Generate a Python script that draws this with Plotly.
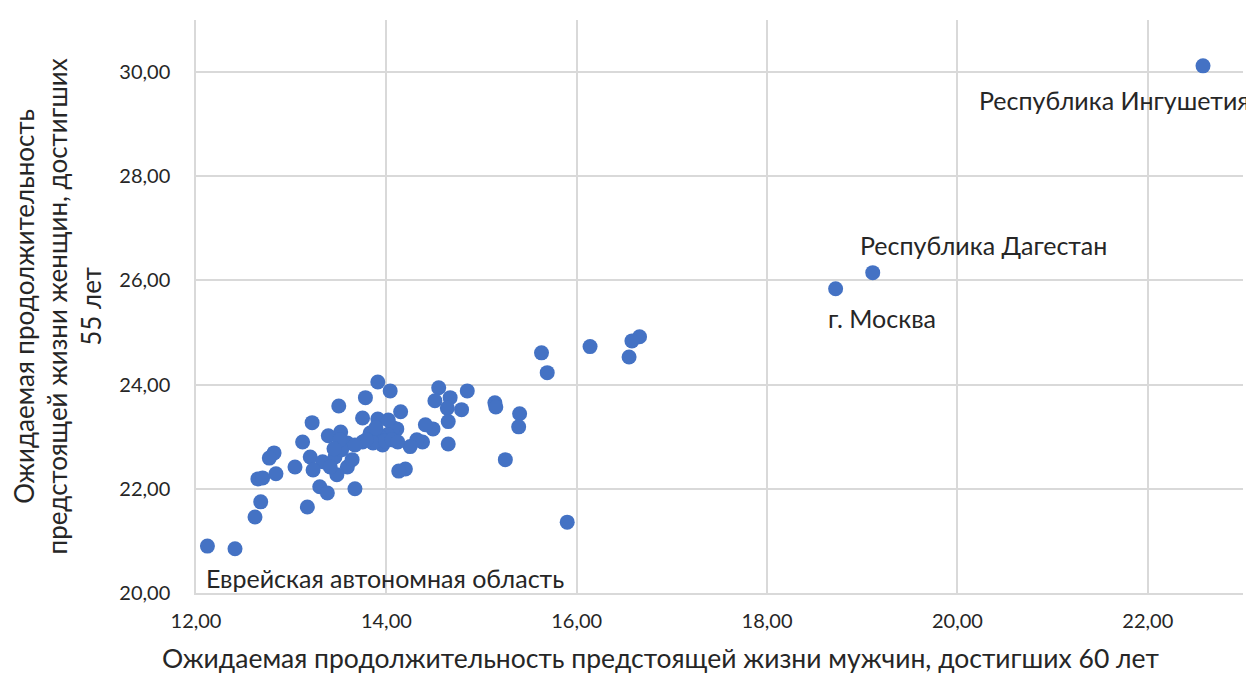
import plotly.graph_objects as go

men = [22.58, 19.11, 18.72, 12.12, 12.41, 15.90, 16.66, 16.58, 16.55, 16.14,
       15.63, 15.69, 15.40, 15.39, 15.14, 15.15, 15.25, 14.85, 14.55, 14.51,
       14.67, 14.64, 14.79, 14.65, 14.49, 14.41, 14.38, 14.32, 14.25, 14.65,
       14.15, 14.11, 14.04, 13.91, 14.20, 14.13, 14.07, 14.01, 13.93, 13.83,
       13.96, 13.86, 13.75, 13.91, 13.75, 13.78, 13.50, 13.52, 13.39, 13.59,
       13.22, 13.12, 13.20, 13.33, 13.46, 13.59, 13.23, 13.48, 13.30, 13.38,
       13.67, 13.17, 12.82, 12.77, 13.04, 12.84, 12.65, 12.70, 12.68, 12.62,
       13.53, 13.64, 13.41, 13.99, 14.06, 13.89, 13.79, 13.67, 14.02, 14.12,
       13.51, 13.45]
women = [30.12, 26.15, 25.84, 20.90, 20.85, 21.36, 24.92, 24.84, 24.53, 24.73,
         24.61, 24.23, 23.44, 23.19, 23.65, 23.57, 22.56, 23.88, 23.94, 23.69,
         23.75, 23.55, 23.52, 23.29, 23.15, 23.23, 22.90, 22.94, 22.81, 22.86,
         23.48, 23.15, 23.88, 24.05, 22.38, 22.34, 23.17, 23.04, 23.00, 23.07,
         22.84, 22.88, 22.90, 23.34, 23.36, 23.75, 23.59, 23.09, 23.02, 22.88,
         23.27, 22.90, 22.61, 22.52, 22.61, 22.42, 22.36, 22.27, 22.04, 21.92,
         22.00, 21.65, 22.69, 22.59, 22.42, 22.29, 22.19, 22.21, 21.75, 21.46,
         22.75, 22.56, 22.42, 22.92, 22.94, 23.17, 22.94, 22.84, 23.32, 22.90,
         22.94, 22.77]

label_texts = ["Республика Ингушетия", "Республика Дагестан", "г. Москва",
               "Еврейская автономная область"]
label_x = [21.65, 20.27, 19.21, 13.99]
label_y = [29.47, 26.69, 25.28, 20.29]

x_title = "Ожидаемая продолжительность предстоящей жизни мужчин, достигших 60 лет"
y_title_lines = ["Ожидаемая продолжительность", "предстоящей жизни женщин, достигших", "55 лет"]

FONT = "Lato, 'Open Sans', sans-serif"
TXT = "#262626"

# page body has an 8px margin; figure is sized to fit the viewport
W, H = 1246, 667
ML, MR, MT, MB = 188, 11, 12, 82
PW, PH = W - ML - MR, H - MT - MB

fig = go.Figure()
fig.add_trace(go.Scatter(
    x=men, y=women, mode="markers",
    marker=dict(color="#4472C4", size=15, line=dict(width=0)),
    hoverinfo="x+y", showlegend=False,
))

for t, x, y in zip(label_texts, label_x, label_y):
    fig.add_annotation(x=x, y=y, xref="x", yref="y", text=t, showarrow=False,
                       xanchor="center", yanchor="middle",
                       font=dict(family=FONT, size=25, color=TXT))

fig.add_annotation(x=(652 - ML) / PW, y=-(650 - (MT + PH)) / PH, xref="paper", yref="paper",
                   text=x_title, showarrow=False, xanchor="center", yanchor="middle",
                   font=dict(family=FONT, size=26.5, color=TXT))

fig.add_annotation(x=(49 - ML) / PW, y=0.5, xref="paper", yref="paper",
                   text="<br>".join(y_title_lines), showarrow=False, textangle=-90,
                   xanchor="center", yanchor="middle", borderpad=0,
                   font=dict(family=FONT, size=26, color=TXT))

axis_common = dict(showgrid=True, gridcolor="#D9D9D9", gridwidth=1.5,
                   zeroline=False, showline=True, linecolor="#D9D9D9", linewidth=1.5,
                   ticks="", tickformat=".2f", dtick=2, mirror=False,
                   tickfont=dict(family=FONT, size=20, color=TXT))

fig.update_xaxes(range=[12, 23], tick0=12, ticklabelstandoff=9, **axis_common)
fig.update_yaxes(range=[20, 31], tick0=20, ticklabelstandoff=20, **axis_common)

fig.update_layout(
    width=W, height=H,
    margin=dict(l=ML, r=MR, t=MT, b=MB, autoexpand=False),
    plot_bgcolor="white", paper_bgcolor="white",
    separators=", ",
    font=dict(family=FONT, color=TXT),
)

fig.write_html("out.html")
